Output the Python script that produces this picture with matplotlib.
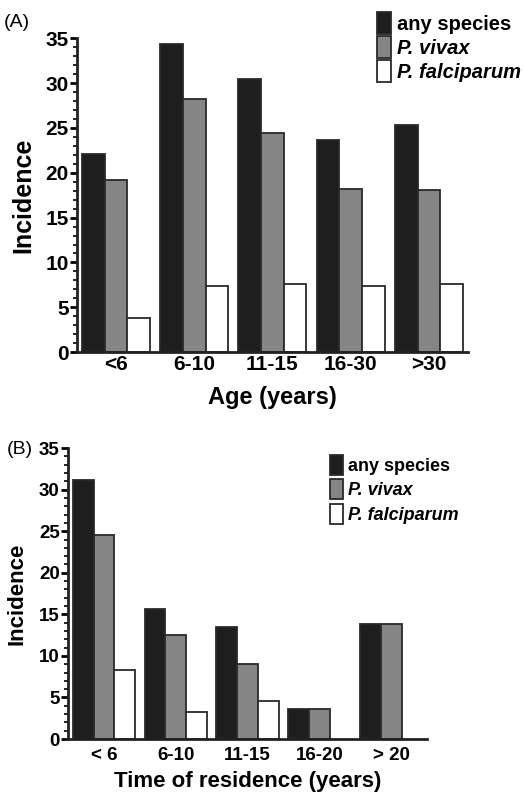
import numpy as np
import matplotlib
matplotlib.use('Agg')
import matplotlib.pyplot as plt
from matplotlib.patches import Patch
from matplotlib.ticker import MultipleLocator

plt.rcParams['font.family'] = ['Liberation Sans', 'DejaVu Sans']

# data
series = ['any species', 'P. vivax', 'P. falciparum']
age_groups = ['<6', '6-10', '11-15', '16-30', '>30']
age_any = [22.1, 34.4, 30.4, 23.7, 25.3]
age_vivax = [19.2, 28.2, 24.4, 18.2, 18.1]
age_falc = [3.8, 7.4, 7.6, 7.4, 7.6]

res_groups = ['< 6', '6-10', '11-15', '16-20', '> 20']
res_any = [31.1, 15.6, 13.5, 3.6, 13.8]
res_vivax = [24.5, 12.5, 9.0, 3.6, 13.8]
res_falc = [8.3, 3.2, 4.6, 0, 0]

colors = ['#1e1e1e', '#858585', 'white']
edge = '#2a2a2a'


def draw_panel(ax, groups, vals, xlabel, tick_fs, label_fs, ylabel_fs, xpad, ylpad, xlpad):
    width = 0.29
    x = np.arange(len(groups))
    for i, v in enumerate(vals):
        v = np.array(v, dtype=float)
        keep = v > 0
        ax.bar(x[keep] + (i - 1) * width, v[keep], width, color=colors[i],
               edgecolor=edge, linewidth=1.3, zorder=2)
    ax.set_xlim(-0.5, 4.5)
    ax.set_ylim(0, 35)
    ax.yaxis.set_major_locator(MultipleLocator(5))
    ax.yaxis.set_minor_locator(MultipleLocator(1))
    ax.set_xticks(x)
    ax.set_xticklabels(groups, fontsize=tick_fs, fontweight='bold')
    for t in ax.get_yticklabels():
        t.set_fontweight('bold')
    ax.tick_params(axis='y', labelsize=tick_fs, width=2, length=5, pad=1)
    ax.tick_params(axis='y', which='minor', width=1.2, length=3)
    ax.tick_params(axis='x', length=0, pad=xpad)
    for s in ['top', 'right']:
        ax.spines[s].set_visible(False)
    for s in ['left', 'bottom']:
        ax.spines[s].set_linewidth(2)
        ax.spines[s].set_color('#222222')
    ax.set_ylabel('Incidence', fontsize=ylabel_fs, fontweight='bold', labelpad=ylpad)
    ax.set_xlabel(xlabel, fontsize=label_fs, fontweight='bold', labelpad=xlpad)


def add_legend(ax, loc, fs, spacing):
    handles = [Patch(facecolor=colors[i], edgecolor=edge, linewidth=1.3) for i in range(3)]
    leg = ax.legend(handles, series, loc='upper left', bbox_to_anchor=loc,
                    frameon=False, fontsize=fs, handlelength=0.7, handleheight=1.3,
                    handletextpad=0.3, labelspacing=spacing, borderaxespad=0,
                    borderpad=0)
    texts = leg.get_texts()
    for i, t in enumerate(texts):
        t.set_fontweight('bold')
        if i > 0:
            t.set_fontstyle('italic')
    return leg


fig = plt.figure(figsize=(5.24, 7.95), dpi=100)

axA = fig.add_axes([0.147, 0.557, 0.746, 0.395])
draw_panel(axA, age_groups, [age_any, age_vivax, age_falc], 'Age (years)', 15, 17, 18, 2, 7, 9)
add_legend(axA, (0.767, 1.083), 14.5, 0.1)
fig.text(0.008, 0.972, '(A)', fontsize=14, va='center', ha='left')

axB = fig.add_axes([0.130, 0.0704, 0.685, 0.366])
draw_panel(axB, res_groups, [res_any, res_vivax, res_falc], 'Time of residence (years)', 13.5, 16, 16, 6, 8, 5)
add_legend(axB, (0.73, 0.976), 13, 0.25)
fig.text(0.012, 0.435, '(B)', fontsize=14, va='center', ha='left')

fig.savefig('out.png', dpi=100, facecolor='white')
